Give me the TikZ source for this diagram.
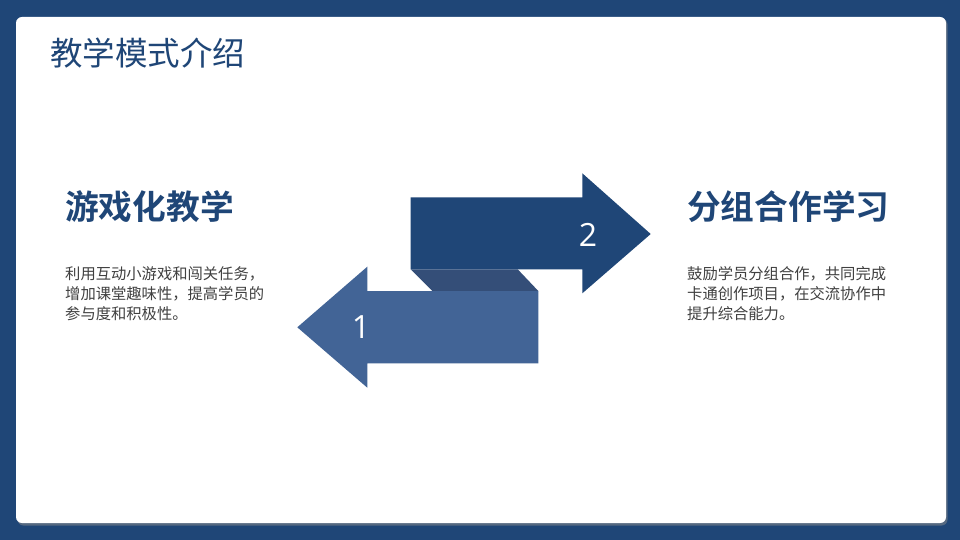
\documentclass[tikz,border=0pt]{standalone}
\usepackage{fontspec}
\setmainfont{Open Sans}
\newfontfamily\cjk{Noto Sans CJK SC}
\newfontfamily\cjkb{Noto Sans CJK SC Bold}
\definecolor{bgblue}{HTML}{1F4677}
\definecolor{darkarrow}{HTML}{1F4677}
\definecolor{lightarrow}{HTML}{426496}
\definecolor{foldc}{HTML}{344E78}
\definecolor{titlec}{HTML}{1F4677}
\definecolor{bodyc}{HTML}{404040}
\tikzset{
  heading/.style={anchor=west, inner sep=0pt, text=titlec, font=\cjkb\fontsize{33.7}{38}\selectfont},
  bodytext/.style={anchor=north west, inner sep=0pt, text=bodyc, align=left, font=\cjk\fontsize{15.3}{20}\selectfont},
  numlabel/.style={inner sep=0pt, text=white, font=\fontsize{32}{36}\selectfont},
}
\begin{document}
\begin{tikzpicture}[x=1pt,y=-1pt]
\useasboundingbox (0,0) rectangle (960,540);
\fill[bgblue] (0,0) rectangle (960,540);
% card shadow and card
\fill[black!45, opacity=0.5, rounded corners=6pt] (17.5,18.5) rectangle (947.5,525.5);
\fill[white, rounded corners=6pt] (16,17) rectangle (946,523);
% title
\node[anchor=west, inner sep=0pt, text=titlec, font=\cjk\fontsize{32.5}{36}\selectfont] (title) at (50,53) {教学模式介绍};
% fold between arrows
\fill[foldc] (410.7,269.3) -- (517.7,269.3) -- (538.3,291) -- (432.3,291) -- cycle;
% arrow 2 (right)
\fill[darkarrow] (410.7,197.3) -- (582.3,197.3) -- (582.3,173.3) -- (650.7,234) -- (582.3,293.3) -- (582.3,269.3) -- (410.7,269.3) -- cycle;
% arrow 1 (left)
\fill[lightarrow] (538.3,291) -- (367.3,291) -- (367.3,266.7) -- (297.3,327.3) -- (367.3,387.7) -- (367.3,363.3) -- (538.3,363.3) -- cycle;
\node[numlabel] (n2) at (588,235) {2};
\node[numlabel] (n1) at (361,327) {1};
% left column
\node[heading] (h1) at (65,207) {游戏化教学};
\node[bodytext] (b1) at (65,266) {利用互动小游戏和闯关任务，\\增加课堂趣味性，提高学员的\\参与度和积极性。};
% right column
\node[heading] (h2) at (687,207) {分组合作学习};
\node[bodytext] (b2) at (687,266) {鼓励学员分组合作，共同完成\\卡通创作项目，在交流协作中\\提升综合能力。};
\end{tikzpicture}
\end{document}
